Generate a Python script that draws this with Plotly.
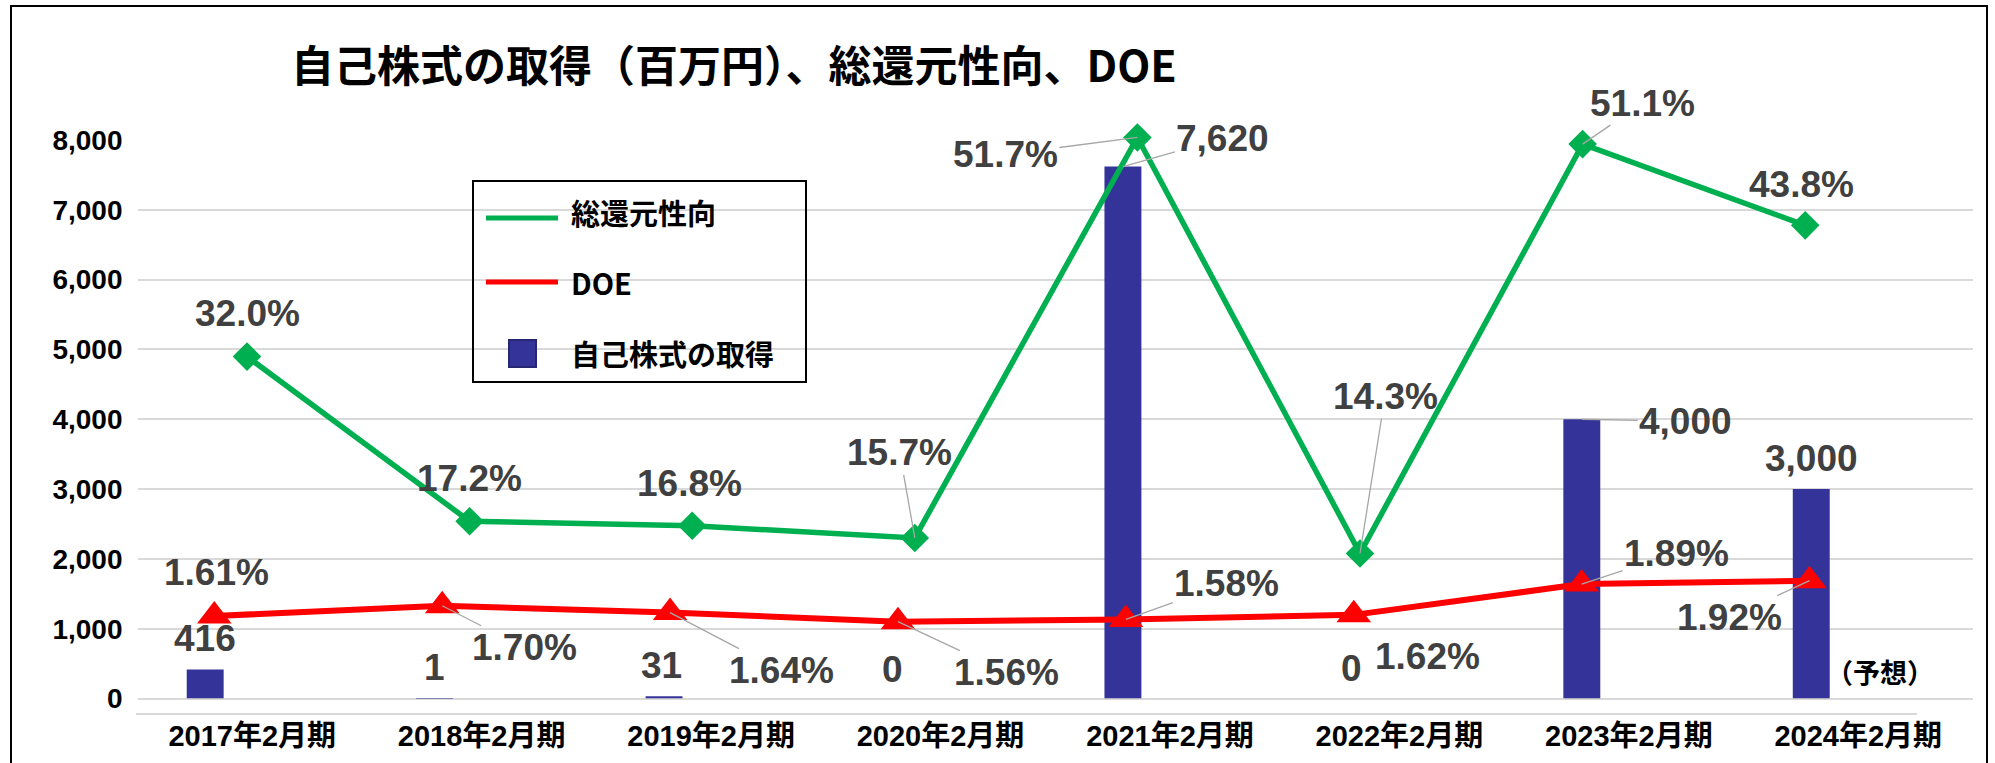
import plotly.graph_objects as go

# ---------------- data ----------------
categories = ["2017年2月期", "2018年2月期", "2019年2月期", "2020年2月期",
              "2021年2月期", "2022年2月期", "2023年2月期", "2024年2月期"]
buyback = [416, 1, 31, 0, 7620, 0, 4000, 3000]          # 自己株式の取得（百万円）
payout = [32.0, 17.2, 16.8, 15.7, 51.7, 14.3, 51.1, 43.8]  # 総還元性向（%）
doe = [1.61, 1.70, 1.64, 1.56, 1.58, 1.62, 1.89, 1.92]     # DOE（%）
y_ticks = [0, 1000, 2000, 3000, 4000, 5000, 6000, 7000, 8000]

name_payout = "総還元性向"
name_doe = "DOE"
name_buyback = "自己株式の取得"
title_text = "自己株式の取得（百万円）、総還元性向、DOE"
forecast_note = "（予想）"

# ---------------- style ----------------
W, H = 1995, 763
def fx(p):
    return p / W
def fy(p):
    return 1 - p / H

GREEN = "#00B050"
RED = "#FF0000"
NAVY = "#333399"
GRID = "#d9d9d9"
LEADER = "#a6a6a6"
LABEL_FONT = dict(family="Liberation Sans, Arial, sans-serif", size=37, color="#404040", weight="bold")
CJK = "Noto Sans CJK JP, sans-serif"

BAR_WIDTH = 0.161
BAR_SHIFT = -0.205   # bars sit left of the category centre

# label offsets (pixels from the point) and leader-line flags
green_off = [(0, -43), (0, -43), (-3, -42), (-15, -85), (-132, 17), (25, -157), (60, -41), (-4, -41)]
green_lead = [False, False, False, True, True, True, True, False]
red_off = [(2, -44), (82, 42), (111, 58), (109, 51), (101, -36), (74, 42), (95, -31), (-80, 37)]
red_lead = [False, True, True, True, True, True, True, True]
bar_off = [(0, -31), (0, -31), (-3, -31), (-1, -29), (100, -28), (-1, -30), (104, 2), (0, -31)]
bar_lead = [False, False, False, False, True, False, True, False]

fig = go.Figure()

fig.add_trace(go.Bar(
    x=categories, y=buyback, xaxis="x", yaxis="y",
    width=BAR_WIDTH, offset=BAR_SHIFT - BAR_WIDTH / 2,
    marker=dict(color=NAVY, line=dict(width=0)),
    name=name_buyback, showlegend=False, cliponaxis=False, hoverinfo="skip",
))
fig.add_trace(go.Scatter(
    x=categories, y=doe, xaxis="x3", yaxis="y2", mode="lines+markers",
    line=dict(color=RED, width=6),
    marker=dict(symbol="triangle-up", size=30, color=RED),
    name=name_doe, showlegend=False, cliponaxis=False, hoverinfo="skip",
))
fig.add_trace(go.Scatter(
    x=categories, y=payout, xaxis="x4", yaxis="y3", mode="lines+markers",
    line=dict(color=GREEN, width=5.5),
    marker=dict(symbol="diamond", size=22, color=GREEN),
    name=name_payout, showlegend=False, cliponaxis=False, hoverinfo="skip",
))

annotations = []

def add_labels(texts, xref, yref, xs, values, offs, leads):
    for i, (t, v) in enumerate(zip(texts, values)):
        dx, dy = offs[i]
        annotations.append(dict(
            x=xs[i], y=v, xref=xref, yref=yref, text=t,
            showarrow=True, ax=dx, ay=dy, arrowhead=0, arrowwidth=1.3,
            arrowcolor=LEADER if leads[i] else "rgba(0,0,0,0)",
            font=LABEL_FONT,
        ))

add_labels([f"{v:.1f}%" for v in payout], "x4", "y3", categories, payout, green_off, green_lead)
add_labels([f"{v:.2f}%" for v in doe], "x3", "y2", categories, doe, red_off, red_lead)
bar_x = [i + BAR_SHIFT for i in range(len(categories))]
add_labels([f"{v:,}" for v in buyback], "x", "y", bar_x, buyback, bar_off, bar_lead)

# forecast note beside the last bar
annotations.append(dict(
    x=bar_x[-1], y=0, xref="x", yref="y", text=forecast_note, showarrow=False,
    xshift=69, yshift=27, font=dict(family=CJK, size=27, color="black", weight="bold"),
))

# title
annotations.append(dict(
    x=fx(289), y=fy(63), xref="paper", yref="paper", xanchor="left", yanchor="middle",
    text=title_text, showarrow=False,
    font=dict(family=CJK, size=43, color="black", weight="bold"),
))

# manual legend (box is transparent, gridlines show through)
legend_rows = [(name_payout, 212), (name_doe, 282), (name_buyback, 353)]
for name, yc in legend_rows:
    annotations.append(dict(
        x=fx(569), y=fy(yc), xref="paper", yref="paper", xanchor="left", yanchor="middle",
        text=name, showarrow=False,
        font=dict(family=CJK, size=29, color="black", weight="bold"),
    ))

shapes = [
    # outer frame
    dict(type="rect", xref="paper", yref="paper", x0=fx(11), y0=fy(6), x1=fx(1987), y1=fy(790),
         line=dict(color="black", width=2), fillcolor="rgba(0,0,0,0)", layer="above"),
    # legend box
    dict(type="rect", xref="paper", yref="paper", x0=fx(473), y0=fy(181), x1=fx(806), y1=fy(382),
         line=dict(color="black", width=2), fillcolor="rgba(0,0,0,0)"),
    dict(type="line", xref="paper", yref="paper", x0=fx(486), x1=fx(558), y0=fy(218), y1=fy(218),
         line=dict(color=GREEN, width=5)),
    dict(type="line", xref="paper", yref="paper", x0=fx(486), x1=fx(558), y0=fy(282), y1=fy(282),
         line=dict(color=RED, width=5)),
    dict(type="rect", xref="paper", yref="paper", x0=fx(509), x1=fx(536), y0=fy(340), y1=fy(367),
         line=dict(color="#262673", width=2), fillcolor=NAVY),
]

# payout axis: zero at y=712.6 px, 11.125 px per percentage point
PAY_TOP_PX = 100
pay_top_val = (712.6 - PAY_TOP_PX) / 11.125

fig.update_layout(
    width=W, height=H,
    margin=dict(l=0, r=0, t=0, b=0, autoexpand=False),
    paper_bgcolor="white", plot_bgcolor="rgba(0,0,0,0)",
    showlegend=False,
    annotations=annotations, shapes=shapes,
    # category axis (labels) + bars + gridline host
    xaxis=dict(domain=[fx(137.5), fx(1973)], type="category", categoryorder="array",
               categoryarray=categories, range=[-0.5, 7.5], anchor="y",
               showgrid=False, zeroline=False, showline=False, ticks="",
               ticklabelstandoff=17, automargin=False,
               tickfont=dict(family="Liberation Sans, " + CJK, size=29, color="black", weight="bold")),
    yaxis=dict(domain=[fy(698.5), fy(140)], range=[0, 8000], anchor="x",
               tickmode="array", tickvals=y_ticks, tickformat=",",
               showgrid=True, gridcolor=GRID, gridwidth=2,
               zeroline=True, zerolinecolor=GRID, zerolinewidth=2,
               showline=False, ticks="", ticklabelstandoff=14, automargin=False,
               tickfont=dict(family="Liberation Sans, Arial, sans-serif", size=28, color="black", weight="bold")),
    # DOE
    xaxis3=dict(domain=[fx(100.35), fx(1923.5)], type="category", categoryorder="array",
                categoryarray=categories, range=[-0.5, 7.5], anchor="y2", visible=False,
                automargin=False),
    yaxis2=dict(domain=[fy(698.5), fy(140)], range=[0.8857, 5.7892], anchor="x3", visible=False,
                automargin=False),
    # payout ratio
    xaxis4=dict(domain=[fx(135.7), fx(1916.5)], type="category", categoryorder="array",
                categoryarray=categories, range=[-0.5, 7.5], anchor="y3",
                showline=True, linecolor=GRID, linewidth=2, showticklabels=False,
                ticks="", showgrid=False, zeroline=False, automargin=False),
    yaxis3=dict(domain=[fy(712.6), fy(PAY_TOP_PX)], range=[0, pay_top_val], anchor="x4",
                visible=False, automargin=False),
)

fig.write_html("out.html", config={"displayModeBar": False},
               post_script="document.body.style.margin='0';document.body.style.overflow='hidden';")
